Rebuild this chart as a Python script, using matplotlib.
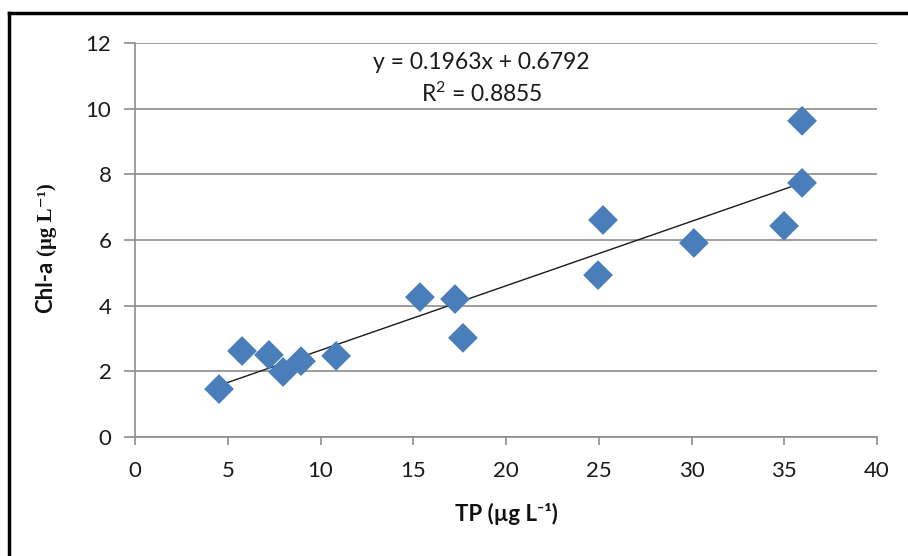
import matplotlib
matplotlib.use("Agg")
import matplotlib.pyplot as plt
from matplotlib.lines import Line2D
import numpy as np

# Data
tp = [4.53, 5.77, 7.22, 7.98, 8.95, 10.84, 15.36, 17.25, 17.68, 24.96, 25.23, 30.13, 34.99, 35.96, 35.96]
chla = [1.46, 2.62, 2.50, 1.98, 2.31, 2.47, 4.26, 4.20, 3.02, 4.93, 6.61, 5.91, 6.43, 9.63, 7.74]
slope = 0.1963
intercept = 0.6792
r2 = 0.8855
xticks = [0, 5, 10, 15, 20, 25, 30, 35, 40]
yticks = [0, 2, 4, 6, 8, 10, 12]

plt.rcParams["mathtext.fontset"] = "custom"
plt.rcParams["mathtext.rm"] = "Lato"
plt.rcParams["mathtext.it"] = "Lato:italic"
plt.rcParams["mathtext.bf"] = "Lato:bold"

W, H = 908, 556
fig = plt.figure(figsize=(W / 100, H / 100), dpi=100)
ax = fig.add_axes([135 / W, 1 - 437 / H, (877 - 135) / W, (437 - 43) / H])

FONT = ["Lato", "DejaVu Sans"]
grid_c = "#8c8c8c"
ax.set_xlim(0, 40)
ax.set_ylim(0, 12)
ax.set_xticks(xticks)
ax.set_yticks(yticks)
ax.yaxis.grid(True, color=grid_c, linewidth=1.2)
ax.set_axisbelow(True)
for s in ["top", "right"]:
    ax.spines[s].set_visible(False)
for s in ["left", "bottom"]:
    ax.spines[s].set_color(grid_c)
    ax.spines[s].set_linewidth(1.2)
ax.tick_params(axis="both", colors=grid_c, width=1.2, labelcolor="#1a1a1a",
               labelsize=16)
ax.tick_params(axis="y", length=8, pad=9)
ax.tick_params(axis="x", length=6, pad=11)
for lab in ax.get_xticklabels() + ax.get_yticklabels():
    lab.set_fontfamily(FONT)

# trend line over data range
xl = np.array([min(tp), max(tp)])
ax.plot(xl, slope * xl + intercept, color="#1a1a1a", linewidth=1.0, zorder=3)

ax.scatter(tp, chla, marker="D", s=230, color="#4a7ebb", edgecolors="none", zorder=4)

ax.text(0.467, 0.95, f"y = {slope:.4f}x + {intercept:.4f}", transform=ax.transAxes,
        ha="center", va="center", fontsize=16.5, family=FONT, color="#1a1a1a")
ax.text(0.467, 0.872, "R$^{\\mathrm{2}}$" + f" = {r2:.4f}", transform=ax.transAxes,
        ha="center", va="center", fontsize=16.5, family=FONT, color="#1a1a1a")

# axis labels
fig.text(506 / W, 1 - 514 / H, "TP (µg L⁻¹)", ha="center", va="center",
         fontsize=16, fontweight="bold", family=FONT, color="#111111")
fig.text(46 / W, 1 - 313 / H, "Chl-a", rotation=90, ha="center", va="bottom",
         fontsize=16, fontweight="bold", family=FONT, color="#111111")
fig.text(47 / W, 1 - 256 / H, "(µg L⁻¹)", rotation=90, ha="center", va="bottom",
         fontsize=15, fontweight="bold", family=["Liberation Serif", "DejaVu Serif"],
         color="#111111")

# outer border (left and top only visible)
fig.add_artist(Line2D([9 / W, 9 / W], [0, 1 - 13 / H], transform=fig.transFigure,
                      color="black", linewidth=2.5))
fig.add_artist(Line2D([9 / W, 1], [1 - 13 / H, 1 - 13 / H], transform=fig.transFigure,
                      color="black", linewidth=2.5))

fig.savefig("out.png", dpi=100)
